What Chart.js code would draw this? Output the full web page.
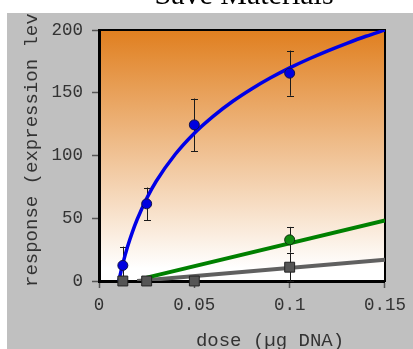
<!DOCTYPE html>
<html>
<head>
<meta charset="utf-8">
<script src="https://cdn.jsdelivr.net/npm/chart.js@4.4.1/dist/chart.umd.min.js"></script>
<style>
  html, body { margin: 0; padding: 0; background: #fff; overflow: hidden; }
</style>
</head>
<body>
<canvas id="c" width="413" height="349"></canvas>
<script>
// measured doses and responses (mean +/- error)
const doses = [0.0125, 0.025, 0.05, 0.1];
const blueMeans = [12.4, 61.5, 124.4, 165.6];
const blueErr = [15, 13, 21, 18];
const grayMeans = [0, 0, 0, 11];
const grayErr = [0, 0, 0, 11];
const greenDoses = [0.1];
const greenMeans = [32.8];
const greenErr = [10.3];

// fitted curves
const blueFitDose = [0.0104, 0.0115, 0.0125, 0.015, 0.0175, 0.02, 0.025, 0.03, 0.04, 0.05,
                     0.06, 0.07, 0.08, 0.09, 0.1, 0.11, 0.12, 0.13, 0.14, 0.15];
const blueFitResp = [0, 7.5, 13.8, 27.5, 39, 49, 65.8, 79.5, 101, 117.8,
                     131.4, 143, 153, 161.9, 169.8, 176.9, 183.4, 189.4, 195, 200];
const greenFitDose = [0.025, 0.15];
const greenFitResp = [2.7, 48.2];
const grayFitDose = [0.02, 0.15];
const grayFitResp = [0, 17];

const xTickValues = [0, 0.05, 0.1, 0.15];
const xTickLabels = ['0', '0.05', '0.1', '0.15'];
const yTickValues = [0, 50, 100, 150, 200];

const chartTitle = 'Save Materials';
const xTitle = 'dose (\u00b5g DNA)';
const yTitle = 'response (expression level)';

function pts(xs, ys) {
  return xs.map(function (x, i) { return { x: x, y: ys[i] }; });
}

const mono = '"Liberation Mono", "DejaVu Sans Mono", monospace';

const backdrop = {
  id: 'backdrop',
  beforeDraw(chart) {
    const ctx = chart.ctx, a = chart.chartArea;
    ctx.save();
    ctx.fillStyle = '#ffffff';
    ctx.fillRect(0, 0, chart.width, chart.height);
    ctx.fillStyle = '#c0c0c0';
    ctx.fillRect(7, 13, chart.width - 7, chart.height - 13);
    const g = ctx.createLinearGradient(0, a.top, 0, a.bottom);
    g.addColorStop(0, '#e07f1f');
    g.addColorStop(0.95, '#ffffff');
    g.addColorStop(1, '#ffffff');
    ctx.fillStyle = g;
    ctx.fillRect(a.left, a.top, a.right - a.left, a.bottom - a.top);
    ctx.restore();
  },
  beforeDatasetsDraw(chart) {
    const ctx = chart.ctx, a = chart.chartArea, ys = chart.scales.y;
    ctx.save();
    // frame
    ctx.strokeStyle = '#000';
    ctx.lineWidth = 2;
    ctx.strokeRect(a.left, a.top, a.right - a.left, a.bottom - a.top);
    // error bars
    ctx.strokeStyle = '#1a1a1a';
    ctx.lineWidth = 1;
    chart.data.datasets.forEach(function (ds, i) {
      if (!ds.errors) return;
      chart.getDatasetMeta(i).data.forEach(function (p, j) {
        const e = ds.errors[j];
        if (!e) return;
        const m = ds.data[j].y;
        const top = ys.getPixelForValue(m + e), bot = ys.getPixelForValue(m - e);
        const x = Math.round(p.x) + 0.5;
        ctx.beginPath();
        ctx.moveTo(x, top); ctx.lineTo(x, bot);
        ctx.moveTo(x - 3.5, Math.round(top) + 0.5); ctx.lineTo(x + 3.5, Math.round(top) + 0.5);
        ctx.moveTo(x - 3.5, Math.round(bot) + 0.5); ctx.lineTo(x + 3.5, Math.round(bot) + 0.5);
        ctx.stroke();
      });
    });
    ctx.restore();
  },
  afterDraw(chart) {
    const ctx = chart.ctx;
    ctx.save();
    ctx.fillStyle = '#000';
    ctx.font = '30px "Liberation Serif", serif';
    ctx.textAlign = 'center';
    ctx.textBaseline = 'alphabetic';
    ctx.fillText(chartTitle, 244, 4);

    ctx.beginPath();
    ctx.rect(7, 13, chart.width - 7, chart.height - 13);
    ctx.clip();
    ctx.fillStyle = '#333';
    ctx.font = '19px ' + mono;
    ctx.textBaseline = 'middle';
    ctx.textAlign = 'center';
    ctx.fillText(xTitle, 270, 341);
    ctx.translate(32, 287);
    ctx.rotate(-Math.PI / 2);
    ctx.textAlign = 'left';
    ctx.fillText(yTitle, 0, 0);
    ctx.restore();
  }
};

new Chart(document.getElementById('c'), {
  type: 'scatter',
  data: {
    datasets: [
      {
        label: 'blue',
        data: pts(doses, blueMeans),
        errors: blueErr,
        pointStyle: 'circle',
        pointRadius: 5,
        pointBackgroundColor: '#0000e0',
        pointBorderColor: '#10104a',
        pointBorderWidth: 1,
        clip: false,
        order: 0
      },
      {
        label: 'green',
        data: pts(greenDoses, greenMeans),
        errors: greenErr,
        pointStyle: 'circle',
        pointRadius: 5,
        pointBackgroundColor: '#108a10',
        pointBorderColor: '#103010',
        pointBorderWidth: 1,
        clip: false,
        order: 0
      },
      {
        label: 'gray',
        data: pts(doses, grayMeans),
        errors: grayErr,
        pointStyle: 'rect',
        pointRadius: 7,
        pointBackgroundColor: '#555555',
        pointBorderColor: '#222222',
        pointBorderWidth: 1,
        clip: false,
        order: 0
      },
      {
        label: 'blue fit',
        data: pts(blueFitDose, blueFitResp),
        showLine: true,
        borderColor: '#0000e6',
        borderWidth: 3.5,
        cubicInterpolationMode: 'monotone',
        pointRadius: 0,
        order: 1
      },
      {
        label: 'green fit',
        data: pts(greenFitDose, greenFitResp),
        showLine: true,
        borderColor: '#008000',
        borderWidth: 4,
        pointRadius: 0,
        order: 1
      },
      {
        label: 'gray fit',
        data: pts(grayFitDose, grayFitResp),
        showLine: true,
        borderColor: '#606060',
        borderWidth: 4,
        pointRadius: 0,
        order: 1
      }
    ]
  },
  options: {
    responsive: false,
    animation: false,
    devicePixelRatio: 1,
    layout: { padding: { top: 30, right: 24, left: 0, bottom: 0 } },
    plugins: { legend: { display: false }, tooltip: { enabled: false } },
    scales: {
      x: {
        type: 'linear',
        min: 0,
        max: 0.15,
        afterFit: function (s) { s.height = 68; },
        afterBuildTicks: function (s) { s.ticks = xTickValues.map(function (v) { return { value: v }; }); },
        ticks: {
          color: '#333',
          font: { family: mono, size: 17.5 },
          padding: 7,
          maxRotation: 0,
          callback: function (v, i) { return xTickLabels[i]; }
        },
        grid: { drawOnChartArea: false, tickLength: 7, tickColor: '#555', tickWidth: 1.5 },
        border: { display: true, color: '#000', width: 3 }
      },
      y: {
        type: 'linear',
        min: 0,
        max: 200,
        afterFit: function (s) { s.width = 99; },
        afterBuildTicks: function (s) { s.ticks = yTickValues.map(function (v) { return { value: v }; }); },
        ticks: {
          color: '#333',
          font: { family: mono, size: 17.5 },
          padding: 9
        },
        grid: { drawOnChartArea: false, tickLength: 7, tickColor: '#555', tickWidth: 1.5 },
        border: { display: true, color: '#000', width: 3 }
      }
    }
  },
  plugins: [backdrop]
});
</script>
</body>
</html>
